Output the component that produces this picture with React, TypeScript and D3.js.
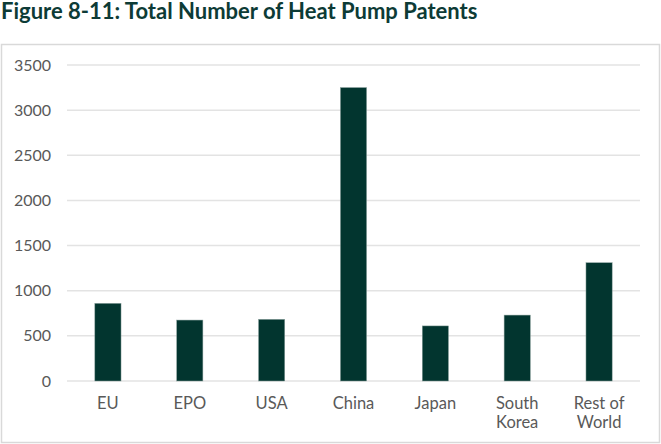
import React from "react";
import * as d3 from "d3";

const categories: string[][] = [["EU"], ["EPO"], ["USA"], ["China"], ["Japan"], ["South", "Korea"], ["Rest of", "World"]];
const values: number[] = [860, 675, 683, 3250, 610, 730, 1310];
const yTicks: number[] = [0, 500, 1000, 1500, 2000, 2500, 3000, 3500];
const title = "Figure 8-11: Total Number of Heat Pump Patents";

export default function App() {
  const W = 661, H = 444;
  const x = d3.scaleBand<number>().domain(d3.range(values.length)).range([67, 640]).paddingInner(0.68).paddingOuter(0.34);
  const y = d3.scaleLinear().domain([0, 3500]).range([381, 65]);
  const font = "Lato, 'Open Sans', sans-serif";
  return (
    <svg width={W} height={H} style={{ position: "absolute", left: 0, top: 0 }} fontFamily={font}>
      <rect x={0} y={0} width={W} height={H} fill="#fff" />
      <text x={1} y={18.5} fontSize={22} fontWeight={700} fill="#0d3b36">{title}</text>
      <rect x={1.5} y={44.5} width={658} height={398} fill="#fff" stroke="#d9d9d9" strokeWidth={1.5} />
      {yTicks.map((t) => (
        <g key={t}>
          <line x1={67} x2={640} y1={y(t)} y2={y(t)} stroke="#e3e3e3" strokeWidth={1.5} />
          <text x={51} y={y(t)} dy="0.35em" textAnchor="end" fontSize={16} fill="#595959">{t}</text>
        </g>
      ))}
      {values.map((v, i) => (
        <rect key={i} x={x(i)} y={y(v)} width={x.bandwidth()} height={y(0) - y(v)} fill="#02352f" stroke="#8aa09c" strokeWidth={0.5} />
      ))}
      {categories.map((lines, i) => (
        <text key={i} x={(x(i) as number) + x.bandwidth() / 2} y={409} textAnchor="middle" fontSize={16.5} fill="#595959">
          {lines.map((l, j) => (
            <tspan key={j} x={(x(i) as number) + x.bandwidth() / 2} dy={j === 0 ? 0 : 19}>{l}</tspan>
          ))}
        </text>
      ))}
    </svg>
  );
}
